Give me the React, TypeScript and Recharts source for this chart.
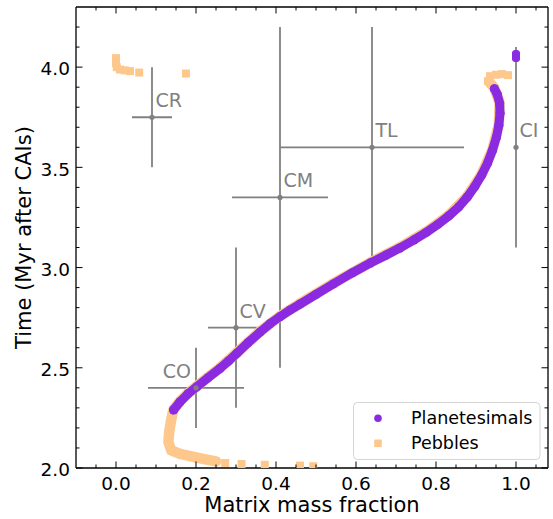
import React from 'react';
import { ComposedChart, Scatter, XAxis, YAxis, ErrorBar, Legend } from 'recharts';

// ---------- tick values ----------
const xMajorTicks = [0, 0.2, 0.4, 0.6, 0.8, 1.0];
const xMinorTicks = [-0.05, 0.05, 0.1, 0.15, 0.25, 0.3, 0.35, 0.45, 0.5, 0.55, 0.65, 0.7, 0.75, 0.85, 0.9, 0.95, 1.05];
const yMajorTicks = [2.0, 2.5, 3.0, 3.5, 4.0];
const yMinorTicks = [2.1, 2.2, 2.3, 2.4, 2.6, 2.7, 2.8, 2.9, 3.1, 3.2, 3.3, 3.4, 3.6, 3.7, 3.8, 3.9, 4.1, 4.2];

// ---------- series ----------
const planetesimalCurve = [
  { x: 0.144, y: 2.29 }, { x: 0.16, y: 2.33 }, { x: 0.18, y: 2.37 }, { x: 0.202, y: 2.405 },
  { x: 0.23, y: 2.45 }, { x: 0.26, y: 2.497 }, { x: 0.282, y: 2.535 }, { x: 0.302, y: 2.572 },
  { x: 0.33, y: 2.625 }, { x: 0.36, y: 2.678 }, { x: 0.385, y: 2.72 }, { x: 0.41, y: 2.755 },
  { x: 0.435, y: 2.788 }, { x: 0.46, y: 2.818 }, { x: 0.5, y: 2.866 }, { x: 0.543, y: 2.918 },
  { x: 0.59, y: 2.973 }, { x: 0.638, y: 3.025 }, { x: 0.675, y: 3.062 }, { x: 0.709, y: 3.097 },
  { x: 0.745, y: 3.138 }, { x: 0.775, y: 3.175 }, { x: 0.805, y: 3.216 }, { x: 0.832, y: 3.258 },
  { x: 0.857, y: 3.303 }, { x: 0.878, y: 3.352 }, { x: 0.897, y: 3.405 }, { x: 0.914, y: 3.462 },
  { x: 0.929, y: 3.522 }, { x: 0.941, y: 3.585 }, { x: 0.951, y: 3.65 }, { x: 0.957, y: 3.71 },
  { x: 0.96, y: 3.77 }, { x: 0.959, y: 3.82 }, { x: 0.953, y: 3.865 }, { x: 0.946, y: 3.892 },
];
const planetesimalIsolated = [
  { x: 1.0, y: 4.045 }, { x: 1.0, y: 4.065 },
];

const pebbleCurve = [
  { x: 0.25, y: 2.033 }, { x: 0.227, y: 2.042 }, { x: 0.194, y: 2.055 }, { x: 0.16, y: 2.07 },
  { x: 0.138, y: 2.088 }, { x: 0.131, y: 2.13 }, { x: 0.133, y: 2.18 }, { x: 0.137, y: 2.23 },
  { x: 0.141, y: 2.27 }, { x: 0.144, y: 2.292 }, { x: 0.16, y: 2.333 }, { x: 0.18, y: 2.373 },
  { x: 0.202, y: 2.408 }, { x: 0.23, y: 2.453 }, { x: 0.26, y: 2.5 }, { x: 0.302, y: 2.575 },
  { x: 0.36, y: 2.681 }, { x: 0.41, y: 2.758 }, { x: 0.46, y: 2.821 }, { x: 0.543, y: 2.921 },
  { x: 0.638, y: 3.028 }, { x: 0.709, y: 3.1 }, { x: 0.775, y: 3.178 }, { x: 0.832, y: 3.261 },
  { x: 0.878, y: 3.355 }, { x: 0.914, y: 3.465 }, { x: 0.941, y: 3.588 }, { x: 0.957, y: 3.713 },
  { x: 0.959, y: 3.823 }, { x: 0.946, y: 3.895 }, { x: 0.935, y: 3.922 },
];
const pebbleBottomSparse = [
  { x: 0.273, y: 2.025 }, { x: 0.314, y: 2.02 }, { x: 0.372, y: 2.016 }, { x: 0.46, y: 2.012 }, { x: 0.493, y: 2.009 },
];
const pebbleTopRight = [
  { x: 0.93, y: 3.93 }, { x: 0.935, y: 3.955 }, { x: 0.95, y: 3.962 }, { x: 0.965, y: 3.965 }, { x: 0.98, y: 3.96 },
];
const pebbleTopLeft = [
  { x: 0.0, y: 4.045 }, { x: 0.0, y: 4.02 }, { x: 0.002, y: 4.0 }, { x: 0.01, y: 3.988 },
  { x: 0.022, y: 3.984 }, { x: 0.035, y: 3.98 }, { x: 0.058, y: 3.973 }, { x: 0.175, y: 3.968 },
];

// ---------- meteorite groups (error bars) ----------
const groupNames = ['CR', 'CM', 'TL', 'CI', 'CV', 'CO'];
const groupX = [0.09, 0.41, 0.64, 1.0, 0.3, 0.2];
const groupY = [3.75, 3.35, 3.6, 3.6, 2.7, 2.4];
const groupXErr = [0.05, 0.12, 0.23, 0, 0.07, 0.12];
const groupYErr = [0.25, 0.85, 0.6, 0.5, 0.4, 0.2];
const groups = groupNames.map((name, i) => ({
  name, x: groupX[i], y: groupY[i], ex: groupXErr[i], ey: groupYErr[i],
}));

const legendLabels = ['Planetesimals', 'Pebbles'];

const PURPLE = '#8a2be2';
const ORANGE = '#fec88c';
const GRAY = '#808080';
const FONT = 'DejaVu Sans, Verdana, sans-serif';
const TICK_FONT = 18.5;

const isMajor = (arr: number[], v: number) => arr.some((a) => Math.abs(a - v) < 1e-9);

const BottomTick = (props: any) => {
  const { x, y, payload } = props;
  const major = isMajor(xMajorTicks, payload.value);
  return (
    <g>
      <line x1={x} x2={x} y1={y} y2={y - (major ? 6.5 : 3.5)} stroke="#000" strokeWidth={1} />
      {major && (
        <text x={x} y={y + 21.8} textAnchor="middle" fontSize={TICK_FONT} fontFamily={FONT} fill="#000">
          {Number(payload.value).toFixed(1)}
        </text>
      )}
    </g>
  );
};
const TopTick = (props: any) => {
  const { x, payload } = props;
  const major = isMajor(xMajorTicks, payload.value);
  const y0 = 7;
  return <line x1={x} x2={x} y1={y0} y2={y0 + (major ? 6.5 : 3.5)} stroke="#000" strokeWidth={1} />;
};
const LeftTick = (props: any) => {
  const { x, y, payload } = props;
  const major = isMajor(yMajorTicks, payload.value);
  return (
    <g>
      <line x1={x} x2={x + (major ? 6.5 : 3.5)} y1={y} y2={y} stroke="#000" strokeWidth={1} />
      {major && (
        <text x={x - 6} y={y + 8.2} textAnchor="end" fontSize={TICK_FONT} fontFamily={FONT} fill="#000">
          {Number(payload.value).toFixed(1)}
        </text>
      )}
    </g>
  );
};
const RightTick = (props: any) => {
  const { y, payload } = props;
  const major = isMajor(yMajorTicks, payload.value);
  const x0 = 548;
  return <line x1={x0} x2={x0 - (major ? 6.5 : 3.5)} y1={y} y2={y} stroke="#000" strokeWidth={1} />;
};

const XLabel = (props: any) => {
  const vb = props.viewBox || { x: 76, y: 468, width: 472, height: 51 };
  return (
    <text x={vb.x + vb.width / 2} y={vb.y + 43.5} textAnchor="middle" fontSize={21} fontFamily={FONT} fill="#000">
      Matrix mass fraction
    </text>
  );
};
const YLabel = (props: any) => {
  const vb = props.viewBox || { x: 0, y: 7, width: 76, height: 461 };
  const cx = vb.x + 30.5;
  const cy = vb.y + vb.height / 2;
  return (
    <text x={cx} y={cy} transform={`rotate(-90 ${cx} ${cy})`} textAnchor="middle" fontSize={21} fontFamily={FONT} fill="#000">
      Time (Myr after CAIs)
    </text>
  );
};

const Dot = (color: string, r: number) => (props: any) => (
  <circle cx={props.cx} cy={props.cy} r={r} fill={color} />
);
const Square = (color: string, s: number) => (props: any) => (
  <rect x={props.cx - s / 2} y={props.cy - s / 2} width={s} height={s} fill={color} />
);

const GroupShape = (props: any) => {
  const { cx, cy, payload } = props;
  const left = payload.name === 'CO';
  return (
    <g>
      <circle cx={cx} cy={cy} r={2.6} fill={GRAY} />
      <text
        x={left ? cx - 5 : cx + 3.5}
        y={cy - 10}
        textAnchor={left ? 'end' : 'start'}
        fontSize={19}
        fontFamily={FONT}
        fill={GRAY}
      >
        {payload.name}
      </text>
    </g>
  );
};

const renderLegend = () => (
  <svg width={188} height={59} style={{ display: 'block' }}>
    <rect x={0.5} y={0.5} width={186.5} height={57} rx={4} ry={4} fill="rgba(255,255,255,0.8)" stroke="#d5d5d5" strokeWidth={1} />
    <circle cx={25} cy={16.3} r={3.8} fill={PURPLE} />
    <rect x={25 - 3.8} y={41.3 - 3.8} width={7.6} height={7.6} fill={ORANGE} />
    <text x={58} y={21.5} fontSize={17.5} fontFamily={FONT} fill="#000">{legendLabels[0]}</text>
    <text x={58} y={46.5} fontSize={17.5} fontFamily={FONT} fill="#000">{legendLabels[1]}</text>
  </svg>
);

export default function App() {
  const xDomain: [number, number] = [-0.1, 1.08];
  const yDomain: [number, number] = [2.0, 4.3];
  const xTicks = [...xMajorTicks, ...xMinorTicks].sort((a, b) => a - b);
  const yTicks = [...yMajorTicks, ...yMinorTicks].sort((a, b) => a - b);
  return (
    <div style={{ position: 'absolute', left: 0, top: 0, width: 553, height: 519, background: '#fff' }}>
      <ComposedChart width={553} height={519} margin={{ top: 6, right: 4, bottom: 0, left: 0 }}>
        <XAxis
          xAxisId="b" orientation="bottom" type="number" dataKey="x" domain={xDomain} allowDataOverflow
          ticks={xTicks} interval={0} tickSize={0} tickMargin={0} tickLine={false} tick={<BottomTick />}
          height={51} axisLine={{ stroke: '#000', strokeWidth: 1.3 }}
          label={{ value: 'Matrix mass fraction', content: <XLabel /> }}
        />
        <XAxis
          xAxisId="t" orientation="top" type="number" dataKey="x" domain={xDomain} allowDataOverflow
          ticks={xTicks} interval={0} tickSize={0} tickMargin={0} tickLine={false} tick={<TopTick />}
          height={1} axisLine={{ stroke: '#000', strokeWidth: 1.3 }}
        />
        <YAxis
          yAxisId="l" orientation="left" type="number" dataKey="y" domain={yDomain} allowDataOverflow
          ticks={yTicks} interval={0} tickSize={0} tickMargin={0} tickLine={false} tick={<LeftTick />}
          width={76} axisLine={{ stroke: '#000', strokeWidth: 1.3 }}
          label={{ value: 'Time (Myr after CAIs)', content: <YLabel /> }}
        />
        <YAxis
          yAxisId="r" orientation="right" type="number" dataKey="y" domain={yDomain} allowDataOverflow
          ticks={yTicks} interval={0} tickSize={0} tickMargin={0} tickLine={false} tick={<RightTick />}
          width={1} axisLine={{ stroke: '#000', strokeWidth: 1.3 }}
        />

        <Scatter xAxisId="t" yAxisId="r" data={[]} isAnimationActive={false} />

        <Scatter
          name="Pebbles" xAxisId="b" yAxisId="l" data={pebbleCurve} isAnimationActive={false}
          line={{ stroke: ORANGE, strokeWidth: 10.5, strokeLinejoin: 'round', strokeLinecap: 'round' }}
          lineType="joint" shape={Square(ORANGE, 8)}
        />
        <Scatter xAxisId="b" yAxisId="l" data={pebbleBottomSparse} isAnimationActive={false} shape={Square(ORANGE, 8)} />
        <Scatter xAxisId="b" yAxisId="l" data={pebbleTopRight} isAnimationActive={false} shape={Square(ORANGE, 8)} />
        <Scatter xAxisId="b" yAxisId="l" data={pebbleTopLeft} isAnimationActive={false} shape={Square(ORANGE, 8)} />

        <Scatter
          name="Planetesimals" xAxisId="b" yAxisId="l" data={planetesimalCurve} isAnimationActive={false}
          line={{ stroke: PURPLE, strokeWidth: 9, strokeLinejoin: 'round', strokeLinecap: 'round' }}
          lineType="joint" shape={Dot(PURPLE, 4.6)}
        />

        <Scatter xAxisId="b" yAxisId="l" data={groups} isAnimationActive={false} shape={<GroupShape />}>
          <ErrorBar dataKey="ex" direction="x" width={0} stroke={GRAY} strokeWidth={1.8} isAnimationActive={false} />
          <ErrorBar dataKey="ey" direction="y" width={0} stroke={GRAY} strokeWidth={1.8} isAnimationActive={false} />
        </Scatter>

        <Scatter
          xAxisId="b" yAxisId="l" data={planetesimalIsolated} isAnimationActive={false}
          line={{ stroke: PURPLE, strokeWidth: 8, strokeLinecap: 'round' }} lineType="joint"
          shape={Dot(PURPLE, 4)}
        />

        <Legend
          layout="vertical" align="center" verticalAlign="middle"
          wrapperStyle={{ left: 353, top: 402, width: 188, height: 59 }}
          content={renderLegend}
        />
      </ComposedChart>
    </div>
  );
}
